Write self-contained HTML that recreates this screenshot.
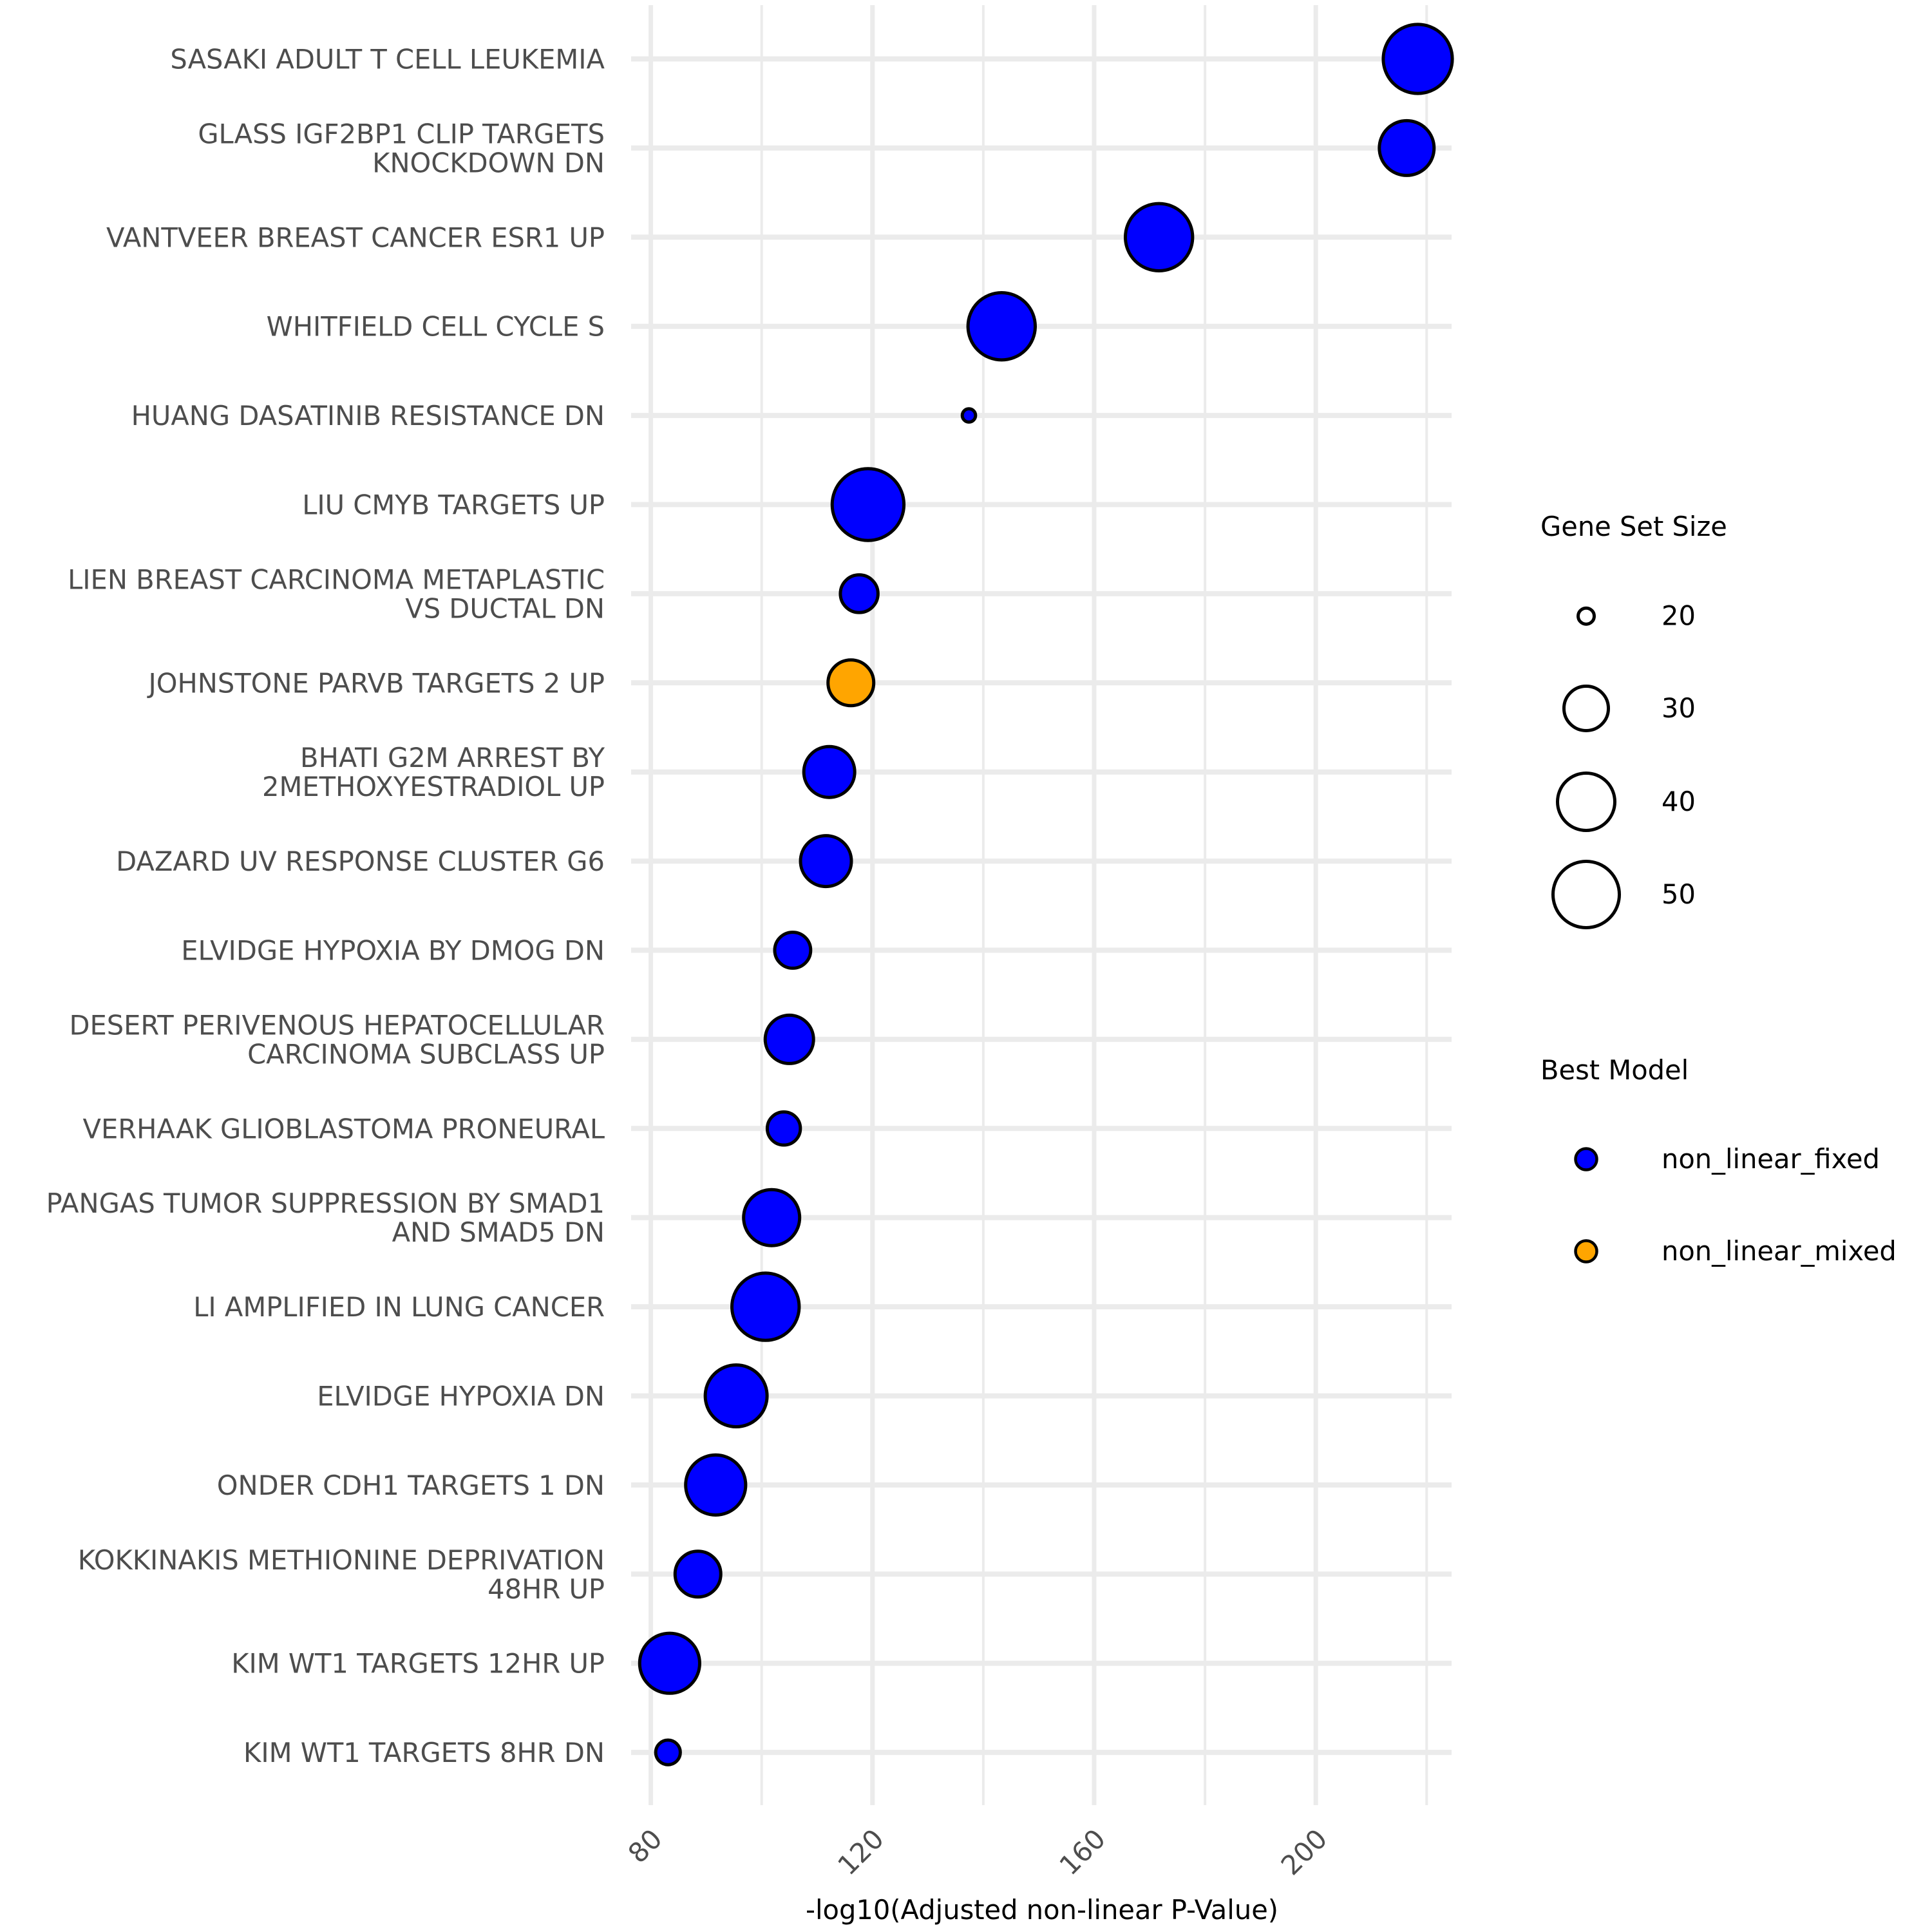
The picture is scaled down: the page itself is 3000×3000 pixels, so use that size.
<!DOCTYPE html>
<html><head><meta charset="utf-8"><title>Gene set dot plot</title>
<style>html,body{margin:0;padding:0;background:#fff;}svg{display:block;}</style>
</head><body>
<svg id="chart" xmlns="http://www.w3.org/2000/svg" width="3000" height="3000" viewBox="0 0 3000 3000" font-family="'DejaVu Sans','Liberation Sans',sans-serif">
<rect x="0" y="0" width="3000" height="3000" fill="#fff"/>
<g id="grid"></g>
<g id="points"></g>
<g id="ylabels"></g>
<g id="xlabels"></g>
<text x="1618" y="2980" font-size="41.6" text-anchor="middle" fill="#000">-log10(Adjusted non-linear P-Value)</text>
<g id="legend">
<text x="2392" y="832" font-size="41.6" fill="#000">Gene Set Size</text>
<text x="2392" y="1676" font-size="41.6" fill="#000">Best Model</text>
</g>
</svg>
<script>
const categories = [
 ["SASAKI ADULT T CELL LEUKEMIA"],
 ["GLASS IGF2BP1 CLIP TARGETS","KNOCKDOWN DN"],
 ["VANTVEER BREAST CANCER ESR1 UP"],
 ["WHITFIELD CELL CYCLE S"],
 ["HUANG DASATINIB RESISTANCE DN"],
 ["LIU CMYB TARGETS UP"],
 ["LIEN BREAST CARCINOMA METAPLASTIC","VS DUCTAL DN"],
 ["JOHNSTONE PARVB TARGETS 2 UP"],
 ["BHATI G2M ARREST BY","2METHOXYESTRADIOL UP"],
 ["DAZARD UV RESPONSE CLUSTER G6"],
 ["ELVIDGE HYPOXIA BY DMOG DN"],
 ["DESERT PERIVENOUS HEPATOCELLULAR","CARCINOMA SUBCLASS UP"],
 ["VERHAAK GLIOBLASTOMA PRONEURAL"],
 ["PANGAS TUMOR SUPPRESSION BY SMAD1","AND SMAD5 DN"],
 ["LI AMPLIFIED IN LUNG CANCER"],
 ["ELVIDGE HYPOXIA DN"],
 ["ONDER CDH1 TARGETS 1 DN"],
 ["KOKKINAKIS METHIONINE DEPRIVATION","48HR UP"],
 ["KIM WT1 TARGETS 12HR UP"],
 ["KIM WT1 TARGETS 8HR DN"]
];
const pValues = [218.4,216.4,171.7,143.3,137.4,119.2,117.6,116.1,112.2,111.6,105.6,105.0,104.0,101.8,100.7,95.4,91.7,88.5,83.4,83.1];
const geneSetSizes = [53,38,51,51,19,56,27.6,31,35,35,27,33,26,39,51,45,43,31,43,23];
const bestModels = ["fixed","fixed","fixed","fixed","fixed","fixed","fixed","mixed","fixed","fixed","fixed","fixed","fixed","fixed","fixed","fixed","fixed","fixed","fixed","fixed"];
const xMajorTicks = [80,120,160,200];
const xMinorTicks = [100,140,180,220];
const sizeLegendValues = [20,30,40,50];
const modelLegendLabels = ["non_linear_fixed","non_linear_mixed"];

const NS="http://www.w3.org/2000/svg";
const PX0=980, PX1=2254, PY0=8, PY1=2803;
function xScale(v){ return 1010.6 + (v-80)*8.605; }
function yScale(i){ return 91.5 + i*138.4; }
function rScale(s){
  const k=[20,30,40,50], r=[15,37,47,54];
  if(s<=30) return r[0]+(s-k[0])*2.2;
  if(s<=40) return r[1]+(s-k[1])*1.0;
  return r[2]+(s-k[2])*0.7;
}
const fillFor = m => m==="mixed" ? "#FFA500" : "#0000FF";
function mk(tag, attrs, parent){
  const e=document.createElementNS(NS,tag);
  for(const k in attrs) e.setAttribute(k, attrs[k]);
  parent.appendChild(e); return e;
}
const grid=document.getElementById('grid');
xMinorTicks.forEach(v=>{
  const l=mk('line',{x1:xScale(v),x2:xScale(v),y1:PY0,y2:PY1,stroke:'#ebebeb','stroke-width':4},grid);
  
  
});
xMajorTicks.forEach(v=>{
  const l=mk('line',{x1:xScale(v),x2:xScale(v),y1:PY0,y2:PY1,stroke:'#ebebeb','stroke-width':7},grid);
  
  
});
categories.forEach((c,i)=>{
  const l=mk('line',{x1:PX0,x2:PX1,y1:yScale(i),y2:yScale(i),stroke:'#ebebeb','stroke-width':8},grid);
  
  
});
const yl=document.getElementById('ylabels');
categories.forEach((lines,i)=>{
  const y=yScale(i);
  const t=mk('text',{x:939,'text-anchor':'end','font-size':41.6,fill:'#4d4d4d'},yl);
  
  
  const n=lines.length;
  lines.forEach((s,j)=>{
    const ts=mk('tspan',{x:939,y:y+15+(j-(n-1)/2)*45},t);
    ts.textContent=s;
  });
});
const xl=document.getElementById('xlabels');
xMajorTicks.forEach(v=>{
  const x=xScale(v)+20, y=2858;
  const t=mk('text',{x:x,y:y,'text-anchor':'end','font-size':41.6,fill:'#4d4d4d',transform:`rotate(-45 ${x} ${y})`},xl);
  
  
  t.textContent=String(v);
});
const pts=document.getElementById('points');
pValues.forEach((v,i)=>{
  const c=mk('circle',{cx:xScale(v),cy:yScale(i),r:rScale(geneSetSizes[i])-2.5,fill:fillFor(bestModels[i]),stroke:'#000','stroke-width':5},pts);
  
  
});
const lg=document.getElementById('legend');
const sizeKeyY=[956.7,1100,1245,1389];
sizeLegendValues.forEach((s,i)=>{
  const c=mk('circle',{cx:2463,cy:sizeKeyY[i],r:rScale(s)-2.5,fill:'#fff',stroke:'#000','stroke-width':5},lg);
  
  
  const t=mk('text',{x:2580,y:sizeKeyY[i]+14,'font-size':41.6,fill:'#000'},lg);
  
  
  t.textContent=String(s);
});
const modelKeyY=[1800,1943];
const modelFills=["#0000FF","#FFA500"];
modelLegendLabels.forEach((m,i)=>{
  const c=mk('circle',{cx:2463,cy:modelKeyY[i],r:16.5,fill:modelFills[i],stroke:'#000','stroke-width':4.5},lg);
  
  
  const t=mk('text',{x:2580,y:modelKeyY[i]+14,'font-size':41.6,fill:'#000'},lg);
  
  
  t.textContent=m;
});
</script>
</body></html>
